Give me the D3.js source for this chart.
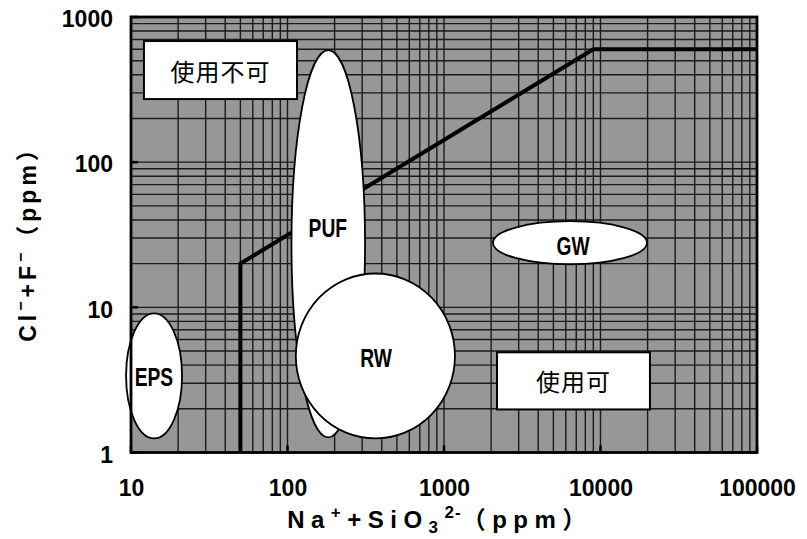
<!DOCTYPE html>
<html>
<head>
<meta charset="utf-8">
<script src="https://cdn.jsdelivr.net/npm/d3@7"></script>
<style>
  html, body { margin: 0; padding: 0; background: #fff; }
  svg { display: block; }
</style>
</head>
<body>
<svg id="chart" width="807" height="539"></svg>
<script>
// ---- data ----
const xTickValues = [10, 100, 1000, 10000, 100000];
const yTickValues = [1, 10, 100, 1000];
const xTickLabels = ["10", "100", "1000", "10000", "100000"];
const yTickLabels = ["1", "10", "100", "1000"];

// limit line (boundary between usable / unusable)
const limitX = [50, 50, 9000, 100000];
const limitY = [1, 20, 600, 600];

// material regions (extents in ppm)
const regionNames = ["EPS", "PUF", "RW", "GW"];
const regionXMin = [9.3, 106, 113, 2056];
const regionXMax = [21.2, 313, 1175, 19820];
const regionYMin = [1.25, 1.27, 1.25, 19.8];
const regionYMax = [9.1, 592, 17.1, 39.2];
const regionLabelX = [14.0, 181, 368, 6670];
const regionLabelY = [3.31, 35.2, 4.48, 26.5];

// zone boxes
const zoneNames = ["使用不可", "使用可"];
const zoneXMin = [12.1, 2182];
const zoneXMax = [115, 20700];
const zoneYMin = [272, 1.98];
const zoneYMax = [683, 4.9];

// ---- layout ----
const svg = d3.select("#chart");
const L = 131, R = 757, T = 17, B = 452.5;

const x = d3.scaleLog().domain([10, 100000]).range([L, R]);
const y = d3.scaleLog().domain([1, 1000]).range([B, T]);

const g = svg.append("g");

// background
g.append("rect").attr("x", L).attr("y", T).attr("width", R - L).attr("height", B - T)
  .attr("fill", "#979797");

// grid
const xGrid = x.ticks();
const yGrid = y.ticks();
g.append("g").selectAll("line").data(xGrid).join("line")
  .attr("x1", d => x(d)).attr("x2", d => x(d)).attr("y1", T).attr("y2", B)
  .attr("stroke", "#1a1a1a").attr("stroke-width", 1.4);
g.append("g").selectAll("line").data(yGrid).join("line")
  .attr("y1", d => y(d)).attr("y2", d => y(d)).attr("x1", L).attr("x2", R)
  .attr("stroke", "#1a1a1a").attr("stroke-width", 1.4);

// inner major ticks
g.append("g").selectAll("line").data(xTickValues).join("line")
  .attr("x1", d => x(d)).attr("x2", d => x(d)).attr("y1", B).attr("y2", B - 7)
  .attr("stroke", "#000").attr("stroke-width", 2.5);
g.append("g").selectAll("line").data(yTickValues).join("line")
  .attr("y1", d => y(d)).attr("y2", d => y(d)).attr("x1", L).attr("x2", L + 7)
  .attr("stroke", "#000").attr("stroke-width", 2.5);

// limit line
const limitData = limitX.map((v, i) => [v, limitY[i]]);
g.append("path").datum(limitData)
  .attr("d", d3.line().x(d => x(d[0])).y(d => y(d[1])))
  .attr("fill", "none").attr("stroke", "#000").attr("stroke-width", 4)
  .attr("stroke-linejoin", "miter");

// regions (ellipses)
const regions = regionNames.map((n, i) => ({
  name: n,
  cx: (x(regionXMin[i]) + x(regionXMax[i])) / 2,
  cy: (y(regionYMin[i]) + y(regionYMax[i])) / 2,
  rx: (x(regionXMax[i]) - x(regionXMin[i])) / 2,
  ry: (y(regionYMin[i]) - y(regionYMax[i])) / 2,
  lx: x(regionLabelX[i]),
  ly: y(regionLabelY[i])
}));
g.append("g").selectAll("ellipse").data(regions).join("ellipse")
  .attr("cx", d => d.cx).attr("cy", d => d.cy).attr("rx", d => d.rx).attr("ry", d => d.ry)
  .attr("fill", "#fff").attr("stroke", "#000").attr("stroke-width", 1.8);
g.append("g").selectAll("text").data(regions).join("text")
  .attr("transform", d => `translate(${d.lx},${d.ly}) scale(0.74,1)`)
  .attr("text-anchor", "middle").attr("dominant-baseline", "central")
  .attr("font-family", "'Liberation Sans', Arial, sans-serif")
  .attr("font-weight", "bold").attr("font-size", 26)
  .attr("fill", "#000")
  .text(d => d.name);

// zone boxes
const zones = zoneNames.map((n, i) => ({
  name: n,
  x0: x(zoneXMin[i]), x1: x(zoneXMax[i]),
  y0: y(zoneYMax[i]), y1: y(zoneYMin[i])
}));
g.append("g").selectAll("rect").data(zones).join("rect")
  .attr("x", d => d.x0).attr("y", d => d.y0)
  .attr("width", d => d.x1 - d.x0).attr("height", d => d.y1 - d.y0)
  .attr("fill", "#fff").attr("stroke", "#000").attr("stroke-width", 2);
g.append("g").selectAll("text").data(zones).join("text")
  .attr("x", d => (d.x0 + d.x1) / 2).attr("y", d => (d.y0 + d.y1) / 2)
  .attr("text-anchor", "middle").attr("dominant-baseline", "central")
  .attr("font-family", "'Noto Sans CJK JP', sans-serif")
  .attr("font-size", 24).attr("letter-spacing", 1)
  .attr("fill", "#000")
  .text(d => d.name);

// frame
g.append("rect").attr("x", L).attr("y", T).attr("width", R - L).attr("height", B - T)
  .attr("fill", "none").attr("stroke", "#000").attr("stroke-width", 2.8);

// axes tick labels
const xAxis = d3.axisBottom(x).tickValues(xTickValues)
  .tickFormat((d, i) => xTickLabels[i]).tickSize(0).tickPadding(0);
const xa = svg.append("g").attr("transform", `translate(0,${B})`).call(xAxis);
xa.select(".domain").remove();
xa.selectAll("text").attr("dy", null).attr("y", 43)
  .attr("font-family", "'Liberation Sans', Arial, sans-serif")
  .attr("font-weight", "bold").attr("font-size", 23).attr("fill", "#000");

const yAxis = d3.axisLeft(y).tickValues(yTickValues)
  .tickFormat((d, i) => yTickLabels[i]).tickSize(0).tickPadding(0);
const ya = svg.append("g").attr("transform", `translate(${L},0)`).call(yAxis);
ya.select(".domain").remove();
ya.selectAll("text").attr("x", -18).attr("dy", "0.42em")
  .attr("font-family", "'Liberation Sans', Arial, sans-serif")
  .attr("font-weight", "bold").attr("font-size", 23).attr("fill", "#000");

// axis titles
const titleFont = "'Liberation Sans', Arial, 'Noto Sans CJK JP', sans-serif";
const xt = svg.append("text").attr("x", 440).attr("y", 528)
  .attr("text-anchor", "middle")
  .attr("font-family", titleFont).attr("font-weight", "bold")
  .attr("font-size", 24).attr("letter-spacing", 6.5).attr("fill", "#000");
xt.append("tspan").text("Na");
xt.append("tspan").attr("dy", -10).attr("font-size", 17).text("+");
xt.append("tspan").attr("dy", 10).text("+SiO");
xt.append("tspan").attr("dy", 5).attr("font-size", 17).text("3");
xt.append("tspan").attr("dy", -15).attr("font-size", 17).attr("letter-spacing", 1).text("2-");
xt.append("tspan").attr("dy", 10).attr("letter-spacing", 6.5).text("（ppm）");

const yt = svg.append("text")
  .attr("transform", "translate(36,238) rotate(-90)")
  .attr("text-anchor", "middle")
  .attr("font-family", titleFont).attr("font-weight", "bold")
  .attr("font-size", 23).attr("letter-spacing", 4).attr("fill", "#000");
yt.append("tspan").text("Cl");
yt.append("tspan").attr("dy", -10).attr("font-size", 16).text("−");
yt.append("tspan").attr("dy", 10).text("+F");
yt.append("tspan").attr("dy", -10).attr("font-size", 16).text("−");
yt.append("tspan").attr("dy", 10).text("（ppm）");
</script>
</body>
</html>
